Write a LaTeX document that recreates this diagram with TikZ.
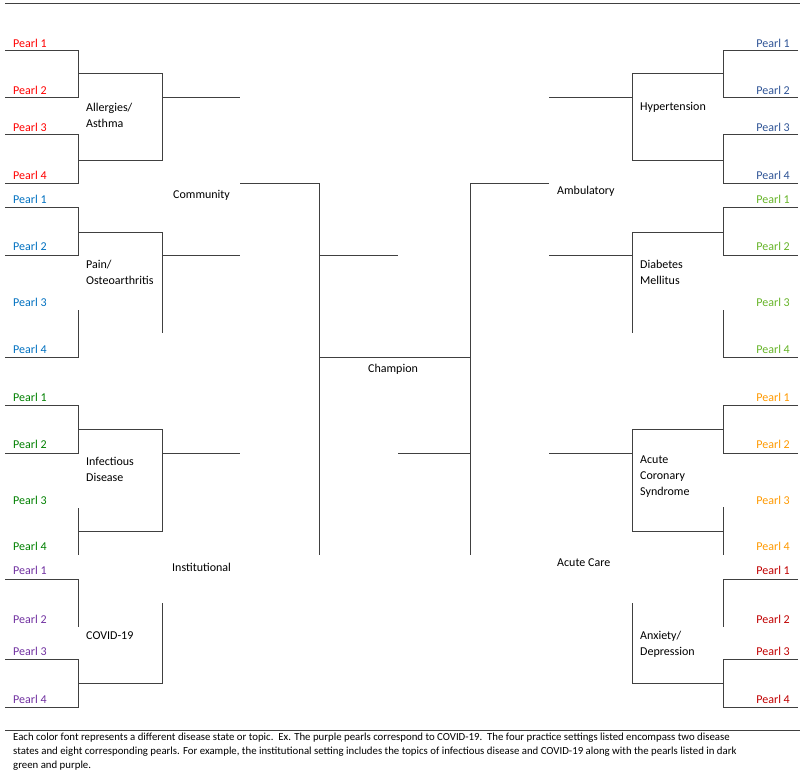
\documentclass[tikz,border=0pt]{standalone}
\usepackage{fontspec}
\setmainfont{Carlito}
\definecolor{cRed}{RGB}{255,0,0}
\definecolor{cBlue}{RGB}{0,112,192}
\definecolor{cGreen}{RGB}{0,128,0}
\definecolor{cPurple}{RGB}{112,48,160}
\definecolor{cNavy}{RGB}{47,84,150}
\definecolor{cLime}{RGB}{102,180,40}
\definecolor{cOrange}{RGB}{255,153,0}
\definecolor{cDark}{RGB}{192,0,0}
\begin{document}
\begin{tikzpicture}[x=1pt,y=-1pt,
  br/.style={draw=black!75,line width=1pt},
  pl/.style={font=\fontsize{12}{14}\selectfont,anchor=west,inner sep=0},
  pr/.style={font=\fontsize{12}{14}\selectfont,anchor=east,inner sep=0},
  lab/.style={font=\fontsize{12}{16}\selectfont,align=left,anchor=west,inner sep=0}]
\useasboundingbox (0,0) rectangle (803,781);
% header line
\draw[br] (5,4) -- (800,4);
% ---------- left: Allergies
\draw[br] (5,51)--(78,51)--(78,98)--(5,98);
\draw[br] (5,135)--(78,135)--(78,183)--(5,183);
\draw[br] (78,74)--(162,74)--(162,160)--(78,160);
\draw[br] (162,98)--(240,98);
% Pain
\draw[br] (5,207)--(78,207)--(78,255)--(5,255);
\draw[br] (78,310)--(78,357)--(5,357);
\draw[br] (78,232)--(162,232)--(162,333);
\draw[br] (162,255)--(240,255);
% Infectious
\draw[br] (5,405)--(78,405)--(78,453)--(5,453);
\draw[br] (78,508)--(78,555);
\draw[br] (78,429)--(162,429)--(162,531)--(78,531);
\draw[br] (162,453)--(240,453);
% COVID
\draw[br] (5,579)--(78,579)--(78,627);
\draw[br] (5,659)--(78,659)--(78,707)--(5,707);
\draw[br] (162,603)--(162,683)--(78,683);
% center
\draw[br] (240,183)--(319,183)--(319,555);
\draw[br] (319,255)--(398,255);
\draw[br] (319,357)--(470,357);
\draw[br] (398,453)--(470,453);
\draw[br] (549,183)--(470,183)--(470,555);
% ---------- right: Hypertension
\draw[br] (798,51)--(723,51)--(723,98)--(798,98);
\draw[br] (798,135)--(723,135)--(723,183)--(798,183);
\draw[br] (723,74)--(632,74)--(632,160)--(723,160);
\draw[br] (632,98)--(549,98);
% Diabetes
\draw[br] (798,207)--(723,207)--(723,255)--(798,255);
\draw[br] (723,310)--(723,357)--(798,357);
\draw[br] (723,232)--(632,232)--(632,333);
\draw[br] (632,255)--(549,255);
% ACS
\draw[br] (798,405)--(723,405)--(723,453)--(798,453);
\draw[br] (723,507)--(723,555);
\draw[br] (723,429)--(632,429)--(632,531)--(723,531);
\draw[br] (632,453)--(549,453);
% Anxiety
\draw[br] (798,579)--(723,579)--(723,627);
\draw[br] (798,659)--(723,659)--(723,707)--(798,707);
\draw[br] (632,603)--(632,683)--(723,683);
% caption line
\draw[br] (5,730)--(800,730);
% ---------- pearl labels
\foreach \c/\ys in {cRed/{43,90,127,175},cBlue/{199,246,302,349},cGreen/{397,444,500,546},cPurple/{570,619,651,699}}{
  \foreach \y [count=\i] in \ys { \node[pl,text=\c] (L\c\i) at (13,\y) {Pearl \i}; }}
\foreach \c/\ys in {cNavy/{43,90,127,175},cLime/{199,246,302,349},cOrange/{397,444,500,546},cDark/{570,619,651,699}}{
  \foreach \y [count=\i] in \ys { \node[pr,text=\c] (R\c\i) at (790,\y) {Pearl \i}; }}
% topic labels
\node[lab] (all) at (86,115) {Allergies/\\Asthma};
\node[lab] (pain) at (86,272) {Pain/\\Osteoarthritis};
\node[lab] (inf) at (86,469) {Infectious\\Disease};
\node[lab] (cov) at (86,636) {COVID-19};
\node[lab] (hyp) at (640,107) {Hypertension};
\node[lab] (dia) at (640,272) {Diabetes\\Mellitus};
\node[lab] (acs) at (640,477) {Acute\\Coronary\\Syndrome};
\node[lab] (anx) at (640,644) {Anxiety/\\Depression};
\node[lab] (com) at (173,195) {Community};
\node[lab] (amb) at (557,191) {Ambulatory};
\node[lab] (cha) at (368,369) {Champion};
\node[lab] (ins) at (172,567) {Institutional};
\node[lab] (acu) at (557,563) {Acute Care};
\node[font=\fontsize{10.8}{14}\selectfont,anchor=north west,align=left,inner sep=0] (cap) at (13,733)
{Each color font represents a different disease state or topic.\ \ Ex. The purple pearls correspond to COVID-19.\ \ The four practice settings listed encompass two disease\\
states and eight corresponding pearls. For example, the institutional setting includes the topics of infectious disease and COVID-19 along with the pearls listed in dark\\
green and purple.};
\end{tikzpicture}
\end{document}
